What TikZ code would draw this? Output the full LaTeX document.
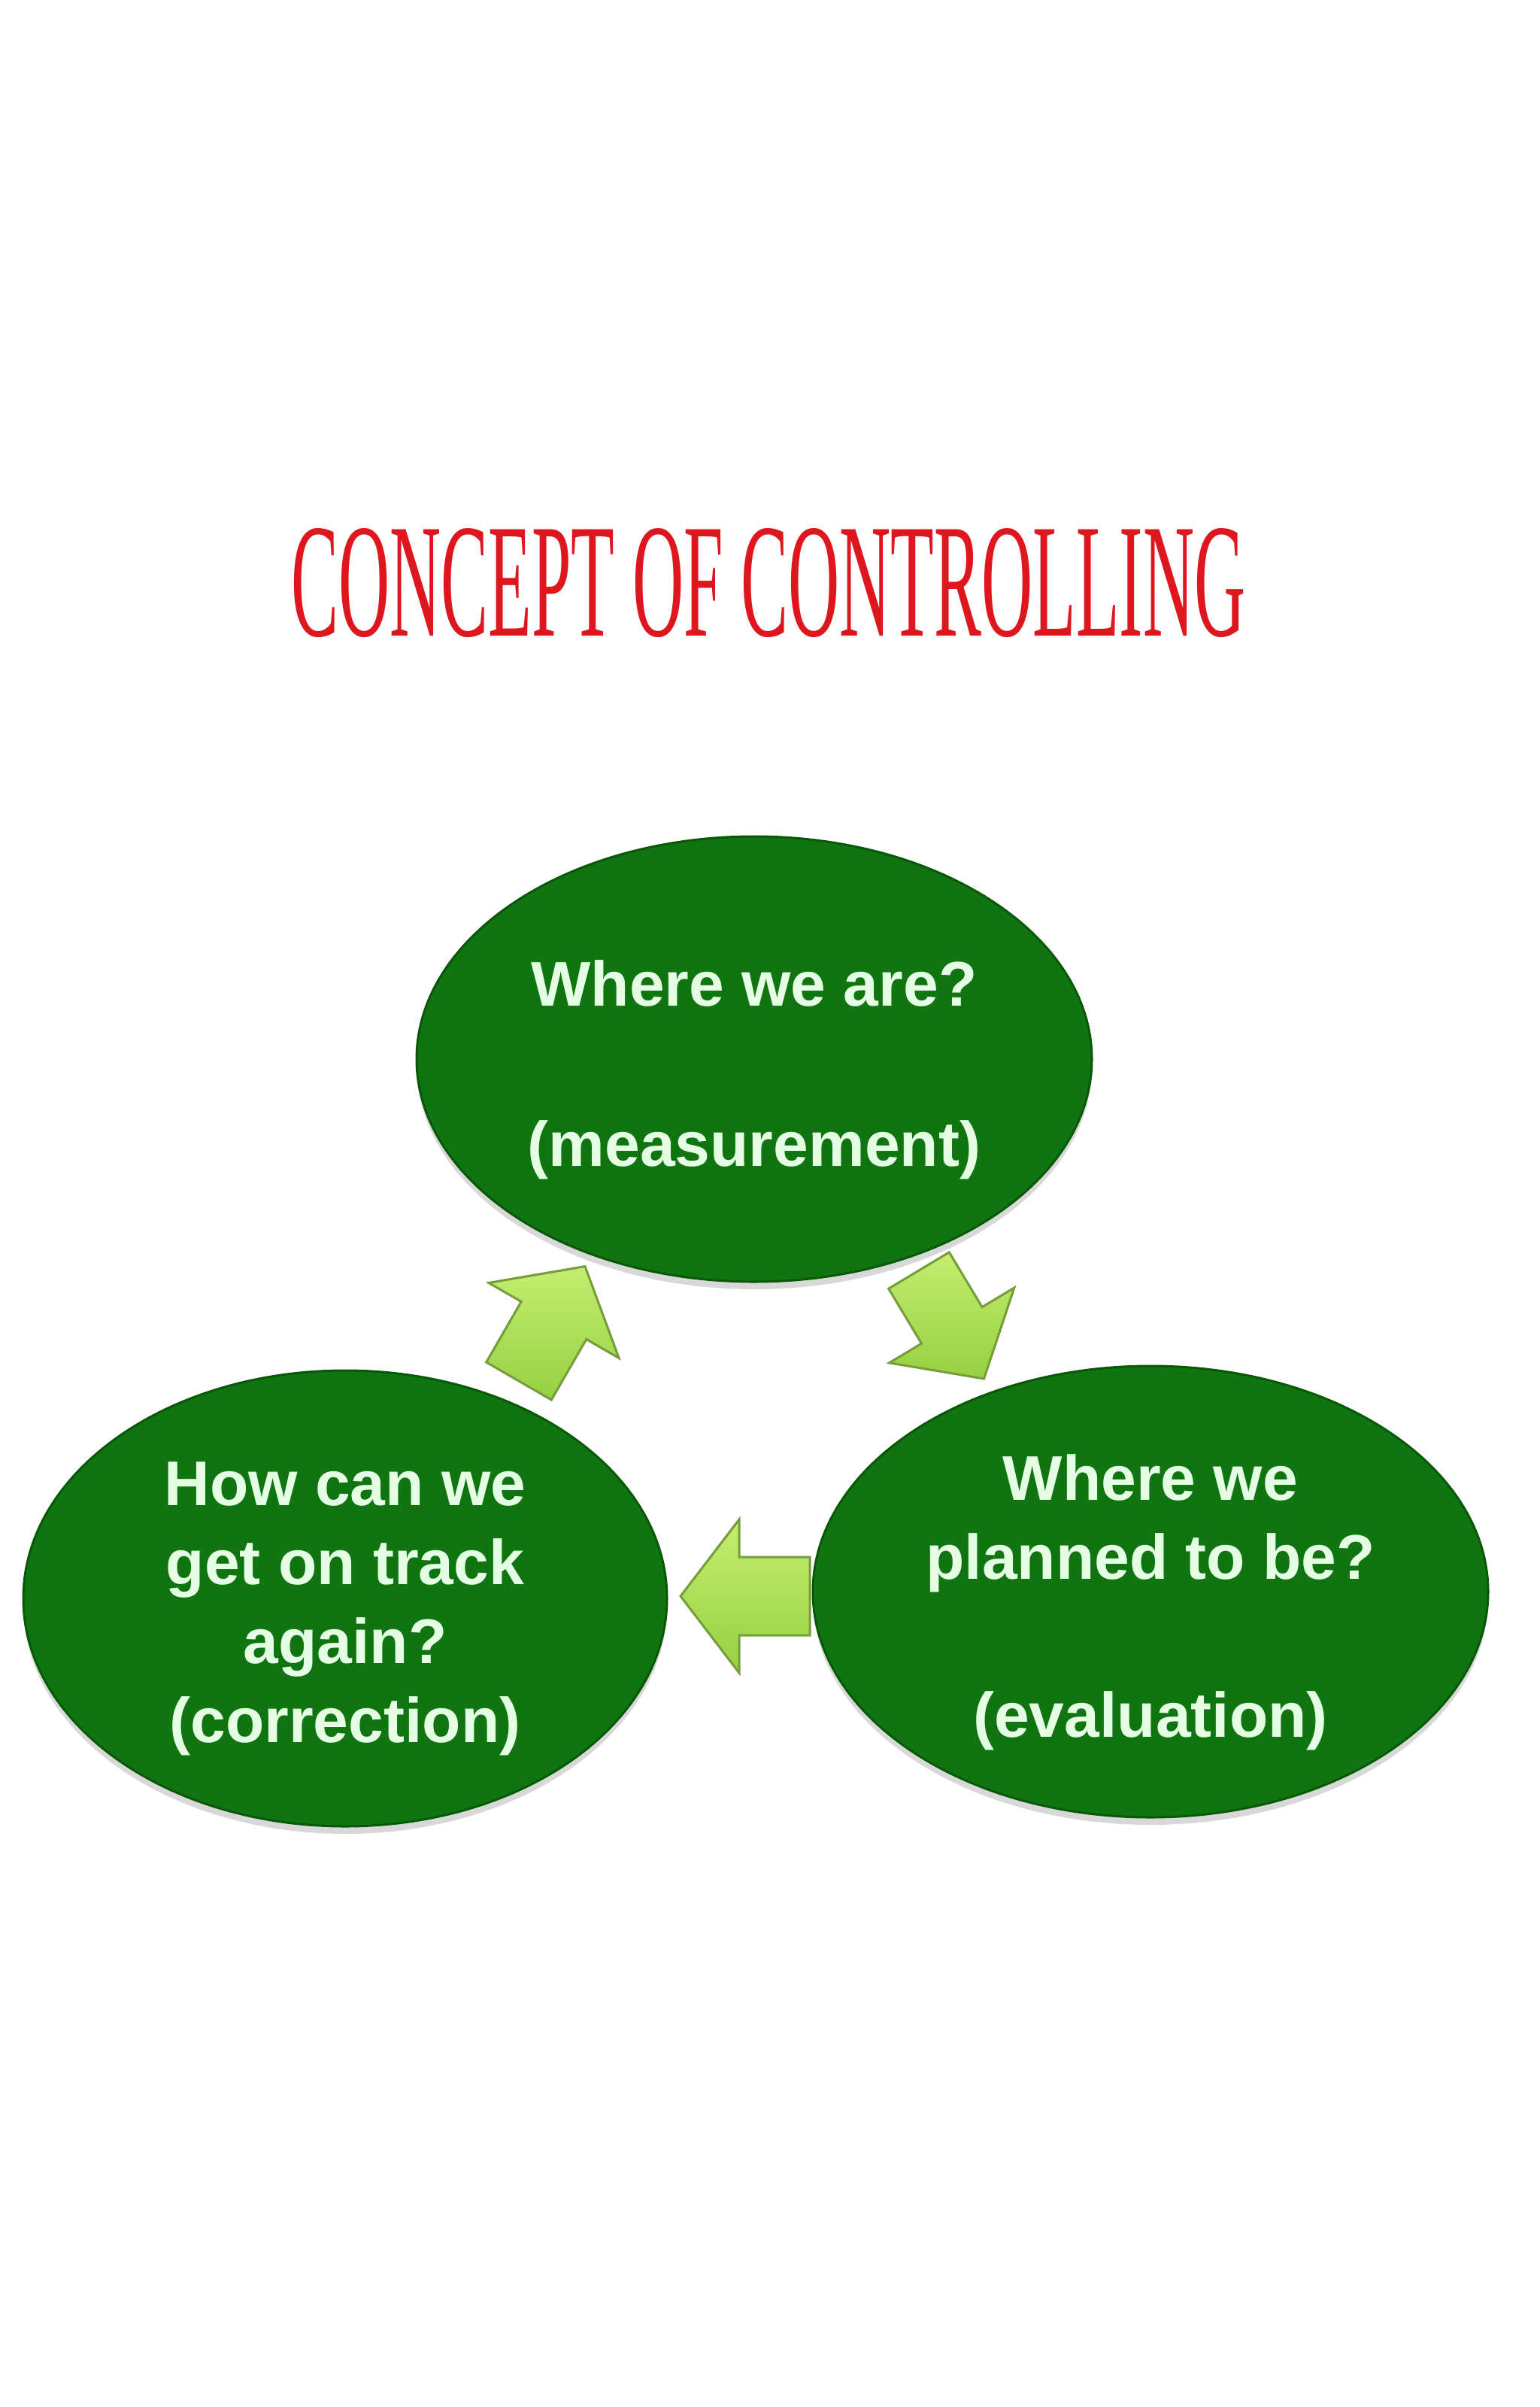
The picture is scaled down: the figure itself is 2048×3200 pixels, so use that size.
\documentclass[tikz,border=0pt]{standalone}
\usepackage{fontspec}
\setmainfont{Liberation Serif}
\newfontfamily\arialfam{Liberation Sans}
\usetikzlibrary{shapes.geometric,shadows}
\definecolor{ellgreen}{RGB}{16,116,16}
\definecolor{ellrim}{RGB}{8,88,8}
\definecolor{txtgreen}{RGB}{228,255,228}
\definecolor{arrfill}{RGB}{150,208,66}
\definecolor{arrlight}{RGB}{196,238,112}
\definecolor{arrrim}{RGB}{118,156,60}
\definecolor{titlered}{RGB}{222,22,30}
\definecolor{titlerim}{RGB}{170,20,25}
\tikzset{
  ellbox/.style={ellipse, fill=ellgreen, draw=ellrim, line width=1.5pt, inner sep=0pt,
    drop shadow={shadow xshift=0pt, shadow yshift=-5pt, opacity=0.25, fill=black!60}},
  elltext/.style={inner sep=0pt, text=txtgreen, font=\arialfam\bfseries\fontsize{42}{52.5}\selectfont, align=center},
  blockarrow/.style={draw=arrrim, line width=1.5pt, line join=miter, top color=arrlight, bottom color=arrfill}
}
% #1 x, #2 y (tail middle), #3 angle, #4 shaft length, #5 shaft half width, #6 head length, #7 head half width
\newcommand\myblockarrow[7]{%
  \begin{scope}[shift={(#1,#2)}, rotate=#3]
    \draw[blockarrow] (0,-#5) -- (#4,-#5) -- (#4,-#7) -- ({#4+#6},0) -- (#4,#7) -- (#4,#5) -- (0,#5) -- cycle;
  \end{scope}}
\begin{document}
\begin{tikzpicture}[x=0.5pt,y=-0.5pt]
  \useasboundingbox (0,0) rectangle (2048,3200);
  \fill[white] (0,0) rectangle (2048,3200);
  \node[text=titlered, inner sep=0pt] (title) at (1022,775)
    {\resizebox{634.5pt}{71.5pt}{\fontsize{100}{100}\selectfont CONCEPT OF CONTROLLING}};
  % block arrows
  \myblockarrow{690}{1836}{60}{93}{50}{83}{100}
  \myblockarrow{1222}{1689}{-59}{85}{47}{83}{97}
  \myblockarrow{1077}{2122}{180}{94}{52}{78}{102}
  % ellipses
  \node[ellbox, minimum width=449pt, minimum height=296pt] (measure) at (1003,1408) {};
  \node[elltext] (measure text) at ([yshift=-7pt]measure.center) {Where we are?\\[54pt](measurement)};
  \node[ellbox, minimum width=449pt, minimum height=300pt] (evaluate) at (1530,2116) {};
  \node[elltext] (evaluate text) at ([yshift=-7pt]evaluate.center) {Where we\\planned to be?\\[52.5pt](evaluation)};
  \node[ellbox, minimum width=428pt, minimum height=303pt] (correct) at (459,2125) {};
  \node[elltext] (correct text) at ([yshift=-7pt]correct.center) {How can we\\get on track\\again?\\(correction)};
\end{tikzpicture}
\end{document}
